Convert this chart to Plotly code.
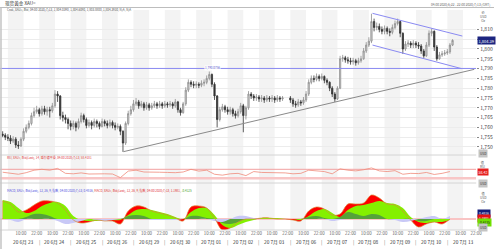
import plotly.graph_objects as go

# ---------------- data ----------------
close = [
1756, 1755, 1754.5, 1753, 1754, 1751, 1750.5, 1754, 1758, 1760, 1762, 1766,
1768, 1769, 1767, 1769.5, 1768, 1769, 1768.5, 1771, 1777, 1776, 1766, 1765,
1764, 1762, 1760.5, 1762, 1760, 1763, 1766, 1764, 1761, 1762.5, 1761, 1763,
1762, 1760.5, 1763, 1762, 1761, 1762.5, 1761, 1760, 1760.5, 1758, 1752, 1762,
1767, 1769, 1772, 1773, 1771, 1772, 1770, 1771.5, 1770, 1771, 1772, 1771,
1772, 1771, 1772, 1771.5, 1772, 1771, 1773, 1769, 1767.5, 1772, 1779, 1783,
1782, 1781.5, 1782, 1781.5, 1782.5, 1783, 1785, 1787, 1782, 1776, 1764, 1769,
1770.5, 1769, 1768, 1769, 1767, 1766, 1768, 1771, 1766, 1770, 1777, 1776,
1775, 1775.5, 1774.5, 1775, 1774, 1775, 1774.5, 1775, 1774, 1775, 1774.5, 1775,
None, None, 1774, 1772, 1771.5, 1773, 1772.5, 1774, 1777, 1783, 1785, 1784.5,
1786, 1785, 1786, 1784, 1783, 1780, 1777, 1774.5, 1780, 1795, 1795.5, 1794.5,
1794, 1793.5, 1794, 1793, 1794, 1795, 1799, 1802, 1804, 1814, 1811, 1811.5,
1810, 1809, 1810.5, 1809, 1808.5, 1811, 1813, 1814, 1808, 1800, 1802.5, 1803,
1802, 1803, 1802, 1801.5, 1799, 1796.5, 1802, 1808, 1809, 1801, 1795, 1797,
1797.5, 1798, 1798.5, 1802, 1804.4,
]
high = [
1758, 1757, 1756.5, 1756, 1755.5, 1755, 1753, 1755, 1759.5, 1761.5, 1763.5, 1767.5,
1770, 1771, 1770, 1771, 1771, 1770.5, 1770.5, 1772.5, 1779, 1778.5, 1776.5, 1768,
1766.5, 1765, 1763.5, 1763.5, 1763, 1764.5, 1767.5, 1767, 1765, 1764, 1763.5, 1764.5,
1764, 1763, 1764.5, 1764, 1763.5, 1764, 1763.5, 1762.5, 1762, 1761.5, 1758.5, 1763,
1768.5, 1771, 1774, 1775, 1774, 1773.5, 1773, 1773, 1772.5, 1772.5, 1773.5, 1773,
1773.5, 1773, 1773.5, 1773, 1773.5, 1773, 1774.5, 1773.5, 1770, 1773, 1780.5, 1784.5,
1784, 1783.5, 1783.5, 1783, 1784, 1784.5, 1786.5, 1788.5, 1787.5, 1783, 1776.5, 1770.5,
1772, 1771.5, 1770.5, 1770.5, 1770, 1768.5, 1769.5, 1772.5, 1772, 1771, 1778.5, 1778,
1777, 1777, 1776.5, 1776.5, 1776, 1776.5, 1776, 1776.5, 1776, 1776.5, 1776, 1776,
None, None, 1776, 1775, 1773.5, 1774.5, 1774, 1775.5, 1778.5, 1784.5, 1786.5, 1786.5,
1787.5, 1787, 1787.5, 1786.5, 1785, 1783.5, 1781, 1778, 1781, 1796.5, 1797, 1796.5,
1796, 1795.5, 1795.5, 1795, 1795.5, 1796.5, 1800.5, 1803.5, 1806, 1818, 1815.5, 1813.5,
1813, 1811.5, 1812, 1811.5, 1810.5, 1812.5, 1814.5, 1815.5, 1814.5, 1808.5, 1804, 1804.5,
1804, 1804.5, 1804, 1803.5, 1802.5, 1800, 1803.5, 1809.5, 1810.5, 1809.5, 1802, 1798.5,
1799, 1799.5, 1800, 1803, 1805,
]
low = [
1755, 1753.5, 1753, 1751.5, 1752, 1749.5, 1749, 1750, 1753, 1757, 1759, 1761,
1765, 1767, 1765.5, 1766, 1766.5, 1766, 1765, 1767.5, 1770, 1773, 1764, 1763,
1762, 1759, 1758.5, 1759, 1758, 1759, 1762, 1762.5, 1759.5, 1760, 1759, 1760,
1760, 1759, 1760, 1760.5, 1759.5, 1760, 1759.5, 1758.5, 1759, 1756, 1747.5, 1751,
1761, 1766, 1768, 1771, 1769.5, 1770, 1768.5, 1769, 1768.5, 1769, 1770, 1769.5,
1770, 1769.5, 1770, 1770, 1770.5, 1769.5, 1770, 1767.5, 1766, 1767, 1771, 1778,
1780.5, 1780, 1780, 1780, 1780.5, 1781, 1782, 1784, 1780.5, 1774, 1760, 1763,
1768, 1767.5, 1766.5, 1766.5, 1765.5, 1764.5, 1765, 1767, 1757.5, 1764, 1769, 1774.5,
1773.5, 1773.5, 1773, 1773, 1772.5, 1773, 1773, 1773, 1772.5, 1773, 1773, 1773.5,
None, None, 1772.5, 1770.5, 1770, 1770.5, 1771, 1771.5, 1773, 1776, 1782, 1783,
1783.5, 1783.5, 1784, 1782.5, 1781.5, 1778.5, 1775.5, 1773, 1774, 1779.5, 1793.5, 1793,
1792.5, 1792, 1792, 1791.5, 1792, 1793, 1794.5, 1798, 1801, 1803, 1809, 1809.5,
1808.5, 1807.5, 1807.5, 1807.5, 1806.5, 1807.5, 1810, 1812, 1806, 1797.5, 1799, 1801,
1800.5, 1800.5, 1800.5, 1800, 1797.5, 1795.5, 1796, 1801, 1806.5, 1799, 1794, 1794.5,
1796, 1796.5, 1797, 1797.5, 1801.5,
]
first_open = 1756.5
candle_step_h = 2        # 2-hour candles
first_candle_h = -4      # 22:00 on 22 Jun

rsi_values = [57, 52, 48, 55, 66, 70, 66, 74, 52, 50, 54, 49, 51, 50, 49, 33, 62, 66, 58, 56,
              57, 56, 55, 58, 70, 62, 66, 48, 44, 50, 52, 42, 60, 56, 55, 56, 54, 50, 52, 66,
              64, 60, 50, 72, 66, 63, 68, 76, 63, 60, 64, 48, 52, 51, 56, 47, 52, 60]
macd_values = [18, 15, 7, 9, 14, 18, 18, 16, 9, -1, -4, -3, -1, -2, -2, -5, 8, 13, 12, 8,
               6, 4, 1, -2, 12, 13, 11, 1, -11, -9, -3, 0, 0, 1, 1, 0, 0, -1, -2, 8,
               12, 10, 4, 5, 15, 15, 16, 24, 21, 15, 14, 8, -1, -8, -5, -3, -5, 0]
signal_values = [19, 17, 11, 6, 8, 13, 16, 17, 13, 3, -1, -2, -2, -1, -1, -1, 4, 9, 10, 9,
                 7, 5, 2, 0, 7, 11, 11, 4, -6, -9, -6, -3, -1, 1, 1, 1, 0, 0, -1, 3,
                 8, 10, 6, 2, 9, 13, 14, 16, 18, 16, 15, 11, 2, -3, -4, -3, -3, -1]
hist_green = [0, 0, 0, 2, 5, 5, 3, 0, 0, 0, 0, 0, 0, 0, 0, 0, 3, 4, 3, 0,
              0, 0, 0, 0, 3, 3, 1, 0, -4, -5, -3, 0, 0, 0, 0, 0, 0, 0, 0, 2,
              3, 1, 0, 2, 7, 5, 3, 5, 4, 0, 0, 0, 0, -2, -2, 0, 0, 0]
hist_lavender = [0, -1, -3, 0, 0, 0, 0, -2, -5, -4, -2, 0, -1, -2, -1, 0, 0, 0, 0, -1,
                 -1, -1, -1, 0, 0, 0, 0, -2, -3, 0, 3, 3, 1, 0, 0, 0, 0, 0, 0, 0,
                 0, 0, -2, -1, 0, 0, 0, 0, 0, 0, -1, -3, -2, 0, 2, 3, 0, 3]
ind_step_h = 6

day_labels = ["20 6月 23", "20 6月 24", "20 6月 25", "20 6月 26", "20 6月 29", "20 6月 30",
              "20 7月 01", "20 7月 02", "20 7月 03", "20 7月 06", "20 7月 07", "20 7月 08",
              "20 7月 09", "20 7月 10", "20 7月 13"]
price_ticks = [1750, 1755, 1760, 1765, 1770, 1775, 1780, 1785, 1790, 1795, 1800, 1805, 1810]
hidden_price_labels = [1805]   # covered by the last-price box in the reference

h_line_price = 1790.0756
chan_up_t, chan_up_p = [278.8, 347.5], [1818.2, 1806.6]
chan_lo_t, chan_lo_p = [278.8, 346.8], [1802.0, 1790.0]
trend_t, trend_p = [88.4, 356.6], [1747.6, 1789.6]
rsi_upper, rsi_lower = 70, 30
last_price = 1804.393
rsi_last = 58.4181

# ---------------- geometry ----------------
W, HGT = 500, 249
X_RANGE = [-6.04, 358.1]
XD = 482 / W
def py(px):
    return 1 - px / HGT
MAIN_DOM = [py(155), py(10)]
RSI_DOM = [py(183), py(155)]
MACD_DOM = [py(230), py(183)]

# candles
cx, co, ch, cl, cc = [], [], [], [], []
prev = first_open
for i, (c_, h_, l_) in enumerate(zip(close, high, low)):
    if c_ is None:
        continue
    cx.append(first_candle_h + candle_step_h * i)
    co.append(prev); ch.append(h_); cl.append(l_); cc.append(c_)
    prev = c_

ind_t = [first_candle_h + ind_step_h * j for j in range(len(rsi_values))]

fig = go.Figure()
fig.add_trace(go.Candlestick(
    x=cx, open=co, high=ch, low=cl, close=cc, xaxis='x', yaxis='y',
    increasing=dict(line=dict(color='#8e8e8e', width=0.8), fillcolor='#d2d2d2'),
    decreasing=dict(line=dict(color='#333333', width=0.8), fillcolor='#333333'),
    whiskerwidth=0, showlegend=False, hoverinfo='skip'))

fig.add_trace(go.Scatter(x=X_RANGE, y=[h_line_price, h_line_price], mode='lines',
                         line=dict(color='#8a8af2', width=1), xaxis='x', yaxis='y'))
fig.add_trace(go.Scatter(x=chan_up_t, y=chan_up_p, mode='lines',
                         line=dict(color='#8a8af2', width=1), xaxis='x', yaxis='y'))
fig.add_trace(go.Scatter(x=chan_lo_t, y=chan_lo_p, mode='lines',
                         line=dict(color='#8a8af2', width=1), xaxis='x', yaxis='y'))
fig.add_trace(go.Scatter(x=trend_t, y=trend_p, mode='lines',
                         line=dict(color='#8a8a8a', width=1), xaxis='x', yaxis='y'))

# RSI
fig.add_trace(go.Scatter(x=X_RANGE, y=[rsi_upper, rsi_upper], mode='lines',
                         line=dict(color='#f2a0a0', width=1), xaxis='x2', yaxis='y2'))
fig.add_trace(go.Scatter(x=X_RANGE, y=[rsi_lower, rsi_lower], mode='lines',
                         line=dict(color='#f8c6c6', width=2.5), xaxis='x2', yaxis='y2'))
fig.add_trace(go.Scatter(x=ind_t, y=rsi_values, mode='lines',
                         line=dict(color='#f08a7a', width=0.8), xaxis='x2', yaxis='y2'))

# MACD
fig.add_trace(go.Scatter(x=X_RANGE, y=[0, 0], mode='lines',
                         line=dict(color='#f9c4c4', width=2), xaxis='x3', yaxis='y3'))
fig.add_trace(go.Scatter(x=ind_t, y=macd_values, mode='lines', fill='tozeroy',
                         fillcolor='#ff0000', line=dict(color='#ff0000', width=0, shape='spline'),
                         xaxis='x3', yaxis='y3'))
fig.add_trace(go.Scatter(x=ind_t, y=signal_values, mode='lines', fill='tozeroy',
                         fillcolor='#84f000', line=dict(color='#84f000', width=0, shape='spline'),
                         xaxis='x3', yaxis='y3'))
fig.add_trace(go.Scatter(x=ind_t, y=hist_green, mode='lines', fill='tozeroy',
                         fillcolor='#55a23a', line=dict(color='#55a23a', width=0, shape='spline'),
                         xaxis='x3', yaxis='y3'))
fig.add_trace(go.Scatter(x=ind_t, y=hist_lavender, mode='lines', fill='tozeroy',
                         fillcolor='#c8c8f6', line=dict(color='#c8c8f6', width=0, shape='spline'),
                         xaxis='x3', yaxis='y3'))
fig.add_trace(go.Scatter(x=ind_t, y=macd_values, mode='lines',
                         line=dict(color='#d98a3a', width=0.7, shape='spline'),
                         xaxis='x3', yaxis='y3'))

# ---------------- shapes ----------------
shapes = []
for k in range(len(day_labels)):
    shapes.append(dict(type='rect', xref='x', yref='paper', x0=24 * k, x1=24 * k + 12,
                       y0=py(230), y1=py(10), fillcolor='#f3f3f3', line=dict(width=0),
                       layer='below'))
for ypx in (155, 183, 230):
    shapes.append(dict(type='line', xref='paper', yref='paper', x0=0, x1=XD, y0=py(ypx),
                       y1=py(ypx), line=dict(color='#d4d4d4', width=1)))
shapes.append(dict(type='line', xref='paper', yref='paper', x0=0, x1=1, y0=py(7.5), y1=py(7.5),
                   line=dict(color='#bdbdbd', width=1)))
shapes.append(dict(type='line', xref='paper', yref='paper', x0=0.002, x1=0.002, y0=0, y1=py(7.5),
                   line=dict(color='#c4c4c4', width=1.5)))

# ---------------- annotations ----------------
ann = []
def tx(x, ypx, text, size=3.4, color='#444', xanchor='left', **kw):
    ann.append(dict(x=x, y=py(ypx), xref='paper', yref='paper', text=text, showarrow=False,
                    xanchor=xanchor, yanchor='middle', font=dict(size=size, color=color), **kw))

tx(0.006, 3.8, "现货黄金 XAU=", size=4.6, color='#333')
tx(0.996, 4.2, "04:00 2020/6/22 - 22:00 2020/7/13 (GMT)", size=3.2, color='#666', xanchor='right')
tx(0.01, 10.5, "Cndl, XAU=, Bid, 04:00 2020/7/13, 1,804.0390, 1,804.6090, 1,803.8800, 1,804.3930, N/A, N/A",
   size=3.0, color='#555')
tx(0.01, 157, "RSI, XAU=, Bid(Last), 14, 威尔德平滑, 04:00 2020/7/13, 58.4181", size=3.0, color='#e03a3a')
tx(0.01, 190.5,
   "<span style='color:#4a4ae0'>MACD, XAU=, Bid(Last), 12, 26, 9, 指数, 04:00 2020/7/13, 0.4816</span>, "
   "<span style='color:#e03030'>MACD, XAU=, Bid(Last), 12, 26, 9, 指数, 04:00 2020/7/13, 1.1981</span>, "
   "<span style='color:#3aa020'>-0.4125</span>", size=3.0)
ann.append(dict(x=156.4, y=h_line_price, xref='x', yref='y', text="1,790.0756", showarrow=False,
                font=dict(size=3, color='#5555cc'), bgcolor='white', borderpad=0))

# right side labels
tx(0.968, 16, "价<br>USD<br>Oz", size=3.2, color='#555')
ann.append(dict(x=0.965, y=last_price, xref='paper', yref='y', text="1,804.39", showarrow=False,
                xanchor='left', font=dict(size=4, color='white'), bgcolor='#1c2580', borderpad=0.5))
tx(0.968, 153.5, "USD", size=3.2, color='#333', bgcolor='#c4c4c4')
tx(0.968, 164, "值<br>RSI", size=3.2, color='#555')
ann.append(dict(x=0.965, y=rsi_last, xref='paper', yref='y2', text="58.42", showarrow=False,
                xanchor='left', font=dict(size=3.6, color='white'), bgcolor='#e52020', borderpad=0.5))
tx(0.968, 183.5, "USD", size=3.2, color='#333', bgcolor='#c4c4c4')
tx(0.968, 197, "值<br>USD<br>Oz", size=3.2, color='#555')
tx(0.965, 213.5, "0.4816", size=3.2, color='white', bgcolor='#141c78')
tx(0.965, 218, "1.1981", size=3.2, color='white', bgcolor='#e51010')
tx(0.965, 222.5, "-0.4125", size=3.2, color='#222', bgcolor='#70e000')
tx(0.968, 227.5, "USD", size=3.2, color='#333', bgcolor='#c4c4c4')

# date row
for k, lab in enumerate(day_labels):
    ann.append(dict(x=24 * k + 12, y=py(242), xref='x3', yref='paper', text=lab, showarrow=False,
                    xanchor='center', yanchor='middle', font=dict(size=4.8, color='#333')))
    if k > 0:
        ann.append(dict(x=24 * k, y=py(242), xref='x3', yref='paper', text="|", showarrow=False,
                        xanchor='center', yanchor='middle', font=dict(size=5, color='#777')))

hour_vals, hour_text = [], []
for k in range(len(day_labels) + 1):
    hour_vals.append(24 * k - 2); hour_text.append("22:00")
    if k < len(day_labels):
        hour_vals.append(24 * k + 10); hour_text.append("10:00")

axis_common = dict(range=X_RANGE, domain=[0, XD], showgrid=False, zeroline=False, showline=False)
fig.update_layout(
    width=W, height=HGT, margin=dict(l=0, r=0, t=0, b=0),
    paper_bgcolor='white', plot_bgcolor='white', showlegend=False, hovermode=False,
    font=dict(family='Noto Sans CJK SC, Liberation Sans, sans-serif', size=5, color='#444'),
    xaxis=dict(**axis_common, showticklabels=False, anchor='y', rangeslider=dict(visible=False)),
    xaxis2=dict(**axis_common, showticklabels=False, anchor='y2', matches='x'),
    xaxis3=dict(**axis_common, anchor='y3', matches='x', tickvals=hour_vals, ticktext=hour_text,
                tickfont=dict(size=4.4, color='#666'), ticks=''),
    yaxis=dict(domain=MAIN_DOM, range=[1745.9, 1819.9], side='right', anchor='x',
               tickvals=price_ticks,
               ticktext=["" if v in hidden_price_labels else f"{v:,}" for v in price_ticks],
               tickfont=dict(size=5, color='#444'), ticks='outside', ticklen=2, tickcolor='#888',
               showgrid=True, gridcolor='#ececec', zeroline=False),
    yaxis2=dict(domain=RSI_DOM, range=[9.1, 133.6], anchor='x2', showticklabels=False,
                showgrid=False, zeroline=False),
    yaxis3=dict(domain=MACD_DOM, range=[-11, 36], anchor='x3', showticklabels=False,
                showgrid=False, zeroline=False),
    shapes=shapes, annotations=ann,
)

fig.write_html("out.html")
